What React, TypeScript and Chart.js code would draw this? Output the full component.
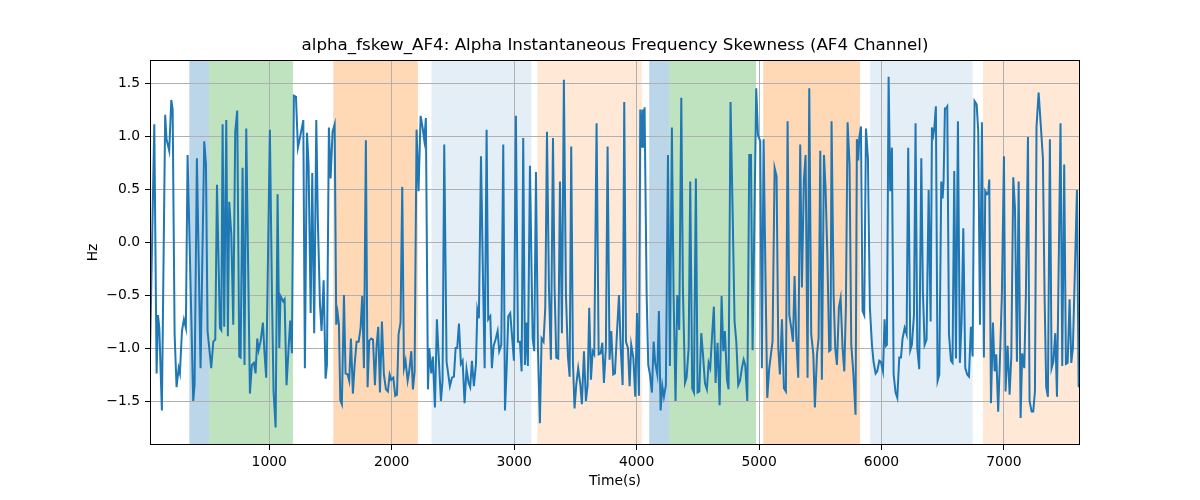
import { useEffect, useRef } from "react";
import { Chart, registerables } from "chart.js";

Chart.register(...registerables);

const FONT = "'DejaVu Sans', 'Liberation Sans', sans-serif";

const titleText = "alpha_fskew_AF4: Alpha Instantaneous Frequency Skewness (AF4 Channel)";
const xLabel = "Time(s)";
const yLabel = "Hz";

const xTicks = [1000, 2000, 3000, 4000, 5000, 6000, 7000];
const yTicks = [-1.5, -1.0, -0.5, 0.0, 0.5, 1.0, 1.5];
const xRange = [26, 7621];
const yRange = [-1.915, 1.717];

const bandStarts = [347, 508, 1523, 2325, 3189, 4103, 4269, 5034, 5908, 6828];
const bandEnds = [508, 1193, 2214, 3140, 4043, 4269, 4975, 5824, 6744, 7621];
const bandColors = [
  "rgba(31,119,180,0.3)",
  "rgba(44,160,44,0.3)",
  "rgba(255,127,14,0.3)",
  "rgba(31,119,180,0.12)",
  "rgba(255,127,14,0.17)",
  "rgba(31,119,180,0.3)",
  "rgba(44,160,44,0.3)",
  "rgba(255,127,14,0.3)",
  "rgba(31,119,180,0.12)",
  "rgba(255,127,14,0.17)",
];

const times = [
  25, 61, 80, 91, 102, 123, 150, 161, 183, 200,
  211, 227, 243, 260, 270, 287, 303, 319, 333, 379,
  390, 409, 439, 469, 483, 496, 526, 543, 559, 573,
  597, 608, 619, 632, 649, 662, 673, 690, 706, 722,
  738, 755, 766, 782, 798, 812, 842, 858, 875, 888,
  902, 913, 929, 948, 962, 975, 1005, 1022, 1035, 1052,
  1068, 1082, 1092, 1114, 1125, 1141, 1158, 1171, 1185, 1201,
  1218,
  1234, 1250, 1278, 1291, 1308, 1321, 1338, 1351, 1367, 1384,
  1397, 1414, 1427, 1444, 1460, 1471, 1487, 1501, 1517, 1534,
  1547, 1558, 1569, 1580, 1593, 1610, 1623, 1640, 1653, 1667,
  1683, 1697, 1713, 1730, 1746, 1759, 1773, 1789, 1803, 1817,
  1833, 1847, 1863, 1877, 1890, 1904, 1920, 1936, 1953, 1969,
  1983, 1996, 2013, 2029, 2043, 2056, 2072, 2086, 2100, 2113,
  2130, 2143, 2160, 2173, 2187, 2203, 2219, 2236, 2252, 2266,
  2279, 2296, 2307, 2323, 2336, 2353, 2369, 2385, 2402, 2415,
  2429, 2448,
  2475, 2492, 2508, 2522, 2535, 2549, 2565, 2579, 2595, 2611,
  2628, 2641, 2655, 2671, 2688, 2699, 2712, 2729, 2745, 2759,
  2775, 2788, 2805, 2818, 2832, 2848, 2865, 2878, 2895, 2911,
  2925, 2938, 2952, 2968, 2984, 2998, 3014, 3031, 3047, 3061,
  3074, 3088, 3101, 3112, 3129, 3151, 3164, 3178, 3194, 3210,
  3224, 3240, 3254, 3268, 3284, 3300, 3317, 3330, 3344, 3360,
  3374, 3390, 3406, 3423, 3439, 3453, 3466, 3480, 3493, 3507,
  3523, 3540, 3553, 3570, 3586, 3600, 3613, 3627, 3641, 3654,
  3673,
  3690, 3706, 3720, 3733, 3749, 3763, 3779, 3793, 3809, 3823,
  3839, 3856, 3869, 3886, 3899, 3913, 3929, 3943, 3956, 3973,
  3989, 4003, 4019, 4030, 4041, 4049, 4057, 4065, 4082, 4095,
  4109, 4125, 4139, 4152, 4169, 4182, 4196, 4210, 4223, 4239,
  4256, 4272, 4288, 4302, 4318, 4332, 4348, 4365, 4378, 4395,
  4408, 4425, 4438, 4454, 4468, 4484, 4498, 4512, 4528, 4542,
  4558, 4574, 4588, 4601, 4615, 4631, 4645, 4661, 4678, 4694,
  4708, 4721, 4738, 4751, 4767, 4784, 4800, 4814, 4830, 4844,
  4860, 4874, 4887, 4904,
  4920, 4934, 4947, 4977, 4991, 5010, 5023, 5037, 5053, 5067,
  5083, 5097, 5110, 5127, 5143, 5157, 5170, 5187, 5203, 5219,
  5233, 5247, 5263, 5277, 5290, 5304, 5320, 5336, 5350, 5366,
  5380, 5396, 5410, 5426, 5443, 5456, 5473, 5486, 5500, 5513,
  5530, 5543, 5557, 5573, 5584, 5592, 5609, 5622, 5636, 5652,
  5666, 5682, 5696, 5709, 5723, 5739, 5753, 5769, 5788, 5799,
  5810, 5818, 5832, 5845, 5859, 5873, 5889, 5905, 5922, 5935,
  5952, 5965, 5982, 5995, 6012, 6025, 6036, 6044, 6058, 6071,
  6085, 6099, 6115, 6129,
  6145, 6159, 6172, 6189, 6205, 6218, 6235, 6248, 6265, 6278,
  6292, 6308, 6325, 6338, 6352, 6368, 6385, 6401, 6412, 6423,
  6431, 6444, 6458, 6472, 6488, 6499, 6507, 6518, 6526, 6537,
  6551, 6567, 6580, 6594, 6608, 6624, 6640, 6654, 6668, 6684,
  6700, 6714, 6730, 6744, 6760, 6777, 6790, 6804, 6820, 6836,
  6847, 6861, 6872, 6880, 6894, 6910, 6924, 6937, 6953, 6970,
  6983, 7000, 7013, 7030, 7046, 7060, 7076, 7090, 7106, 7120,
  7136, 7149, 7166, 7179, 7196, 7209, 7226, 7239, 7253, 7266,
  7283, 7302, 7318, 7332, 7345, 7359, 7375, 7389, 7403, 7419,
  7433, 7462, 7476, 7492, 7506, 7520, 7536, 7550, 7563, 7577,
  7596, 7610, 7621,
];

const skewness = [
  -1.13, 1.11, -1.24, -0.69, -0.81, -1.59, 1.2, 0.97, 0.86, 1.34,
  1.25, -0.87, -1.37, -1.19, -1.24, -0.84, -0.73, -0.81, 0.82, -1.5,
  -1.35, 0.79, -1.19, 0.95, 0.73, -0.84, -1.19, -0.94, -0.92, 0.54,
  -0.81, -0.83, 1.11, -0.8, 1.15, -0.89, 0.38, 0.07, -0.78, 1.04,
  1.24, -1.08, -1.09, 0.7, -1.16, 1.07, -1.43, -1.16, -1.14, -1.24,
  -0.91, -1.02, -0.94, -0.76, -1.06, -1.28, 1.06, -0.5, -1.41, -1.75,
  0.45, -1.0, -0.51, -0.56, -0.54, -1.35, -1.0, -0.74, -1.05, 1.38,
  1.37,
  0.89, 0.98, 1.15, -1.19, 1.03, 0.73, -0.67, 0.65, -0.86, 1.15,
  0.19, -0.59, -0.84, -0.36, -1.29, -1.16, 1.08, 0.6, 1.04, 1.11,
  -0.78, -0.67, -0.78, -1.49, -1.53, -0.5, -1.24, -1.25, -1.31, -0.91,
  -1.43, -1.16, -0.94, -0.94, -0.81, -0.51, -1.19, 0.96, -1.37, -0.93,
  -0.91, -0.92, -1.35, -0.97, -0.8, -1.42, -0.75, -1.25, -1.39, -1.41,
  -1.25, -1.3, -1.28, -1.45, -1.44, -0.87, -0.76, 0.52, -1.19, -1.12,
  -1.31, -1.22, -1.03, -1.39, -1.22, 1.06, 0.48, 1.19, 1.08, 0.96,
  1.17, -1.39, -1.0, -1.24, -1.08, -1.56, -0.73, -1.11, -1.5, -1.31,
  0.92, -1.13,
  -1.36, -1.28, -1.27, -1.0, -1.0, -0.77, -1.15, -1.12, -1.52, -1.2,
  -1.33, -1.37, -1.12, -1.36, -1.15, -0.64, -0.72, 0.81, -0.31, -1.19,
  1.06, -0.73, -0.7, -1.19, -0.98, -0.92, -0.84, -1.03, -0.97, 0.92,
  -1.59, -1.22, -0.7, -0.67, -0.91, -1.12, 1.19, -0.94, -0.94, -1.22,
  0.98, -1.16, -0.76, -1.17, 0.72, -0.91, -1.03, 0.66, -1.0, -1.71,
  -0.91, -0.94, -0.62, 1.04, -0.43, -1.11, 0.98, -0.43, -1.09, -1.1,
  0.57, -0.86, 1.53, -0.5, -1.08, -1.27, 0.9, -1.13, -1.57, -1.35,
  -1.19, -1.34, -1.53, -1.03, -1.5, -1.35, -0.62, -1.3, -1.03, -1.06,
  1.12,
  -1.06, -1.05, -0.95, -1.33, -1.0, 0.9, -1.11, -0.84, -1.25, -1.24,
  -0.87, -0.5, -0.97, -1.35, 1.32, -0.94, -1.0, -1.36, -0.97, -1.09,
  -1.46, -0.67, -1.45, 1.25, 0.89, 1.25, 0.89, 1.27, -0.5, -1.16,
  -1.25, -1.42, -0.94, -1.14, -1.25, -0.65, -1.59, -1.36, -1.46, -1.35,
  0.82, -1.17, 1.08, -0.5, -1.5, -0.5, -0.83, 1.36, -0.43, -1.33,
  -1.28, -1.0, 0.57, -1.38, -1.42, 0.6, -1.42, -1.41, -0.86, -1.06,
  -1.33, -1.39, -1.14, -1.19, -0.91, -0.61, -1.33, -0.95, -1.54, -0.51,
  -1.03, -0.84, -1.3, -1.39, 1.32, 0.29, -0.75, -0.94, -1.35, -1.31,
  -1.19, -1.11, -1.16, -1.5,
  0.82, 0.82, -1.02, 1.45, 1.01, 0.95, -1.19, 0.97, -0.37, -1.47,
  -1.19, -1.06, -0.94, 0.7, 0.62, -1.0, -1.25, -0.73, -1.38, -1.41,
  1.14, -0.69, -0.81, -0.94, -0.32, -0.91, -1.28, 0.92, -0.43, 0.59,
  0.82, -1.28, 1.45, -0.87, -1.06, -1.56, -1.06, -0.91, 0.86, -1.3,
  0.82, 0.51, -0.09, -1.03, -1.02, 1.14, -0.5, -1.0, -1.16, -0.62,
  -0.53, -1.0, -1.22, -0.62, 1.13, 0.73, -0.97, -1.22, -1.63, 0.97,
  0.77, 0.98, 1.09, -0.65, -0.69, 1.07, 0.79, -0.62, -0.97, -1.13,
  -1.24, -1.22, -1.12, -1.13, -1.22, -0.73, -0.98, -0.97, 1.56, 0.48,
  0.89, -1.25, -1.42, -1.47,
  -1.09, -1.09, -0.91, -0.81, -0.87, 0.89, -1.02, -0.97, -0.69, 1.12,
  -1.0, -1.2, 0.79, -0.47, -0.97, -0.92, 0.49, -0.75, 1.08, 1.01,
  1.07, 1.28, -1.31, -1.25, 0.57, 0.41, 0.57, 1.26, 1.26, 1.28,
  -0.87, -1.12, -1.14, 0.67, -1.1, 1.14, -1.14, -0.75, 0.13, -1.19,
  -1.25, -1.27, -0.8, -1.08, 1.33, 1.3, 1.04, -0.78, 1.13, -1.09,
  0.48, 0.45, 0.46, 0.59, -1.52, -0.76, -1.22, -1.06, -1.6, -1.0,
  -0.5, 0.81, -1.41, -0.98, -1.44, -1.08, 0.61, 0.32, -1.13, 0.57,
  -1.66, -1.05, -1.19, -0.5, 0.99, -1.5, -1.6, -1.6, -1.41, 1.09,
  1.41, 1.08, 0.79, -0.53, -1.37, -1.46, 0.97, -1.19, -1.13, -0.86,
  -1.46, 1.12, -1.17, 0.73, -1.15, -1.14, -0.54, -1.14, -1.0, -0.37,
  0.49, -1.36, -1.37,
];

const fmtY = (v: number) => (v < 0 ? "\u2212" : "") + Math.abs(v).toFixed(1);

const bandsPlugin = {
  id: "bands",
  beforeDraw(chart: any) {
    const { ctx, chartArea, scales } = chart;
    const x = scales.x;
    ctx.save();
    ctx.beginPath();
    ctx.rect(chartArea.left, chartArea.top, chartArea.right - chartArea.left, chartArea.bottom - chartArea.top);
    ctx.clip();
    for (let i = 0; i < bandStarts.length; i++) {
      const x0 = x.getPixelForValue(bandStarts[i]);
      const x1 = x.getPixelForValue(bandEnds[i]);
      ctx.fillStyle = bandColors[i];
      ctx.fillRect(x0, chartArea.top, x1 - x0, chartArea.bottom - chartArea.top);
    }
    ctx.restore();
  },
};

const framePlugin = {
  id: "frame",
  afterDraw(chart: any) {
    const { ctx, chartArea } = chart;
    ctx.save();
    ctx.strokeStyle = "#000";
    ctx.lineWidth = 1;
    ctx.strokeRect(
      Math.round(chartArea.left) + 0.5,
      Math.round(chartArea.top) + 0.5,
      Math.round(chartArea.right - chartArea.left) - 1,
      Math.round(chartArea.bottom - chartArea.top) - 1
    );
    ctx.fillStyle = "#000";
    ctx.textAlign = "center";
    ctx.textBaseline = "middle";
    const cx = (chartArea.left + chartArea.right) / 2;
    ctx.font = `16.7px ${FONT}`;
    ctx.fillText(titleText, cx, 46);
    ctx.font = `13.9px ${FONT}`;
    ctx.fillText(xLabel, cx, 481);
    ctx.save();
    ctx.translate(93, (chartArea.top + chartArea.bottom) / 2);
    ctx.rotate(-Math.PI / 2);
    ctx.fillText(yLabel, 0, 0);
    ctx.restore();
    ctx.restore();
  },
};

export default function App() {
  const ref = useRef<HTMLCanvasElement | null>(null);

  useEffect(() => {
    if (!ref.current) return;
    const points = times.map((t, i) => ({ x: t, y: skewness[i] }));
    const chart = new Chart(ref.current, {
      type: "line",
      data: {
        datasets: [
          {
            data: points,
            borderColor: "#1f77b4",
            borderWidth: 2,
            pointRadius: 0,
            tension: 0,
            fill: false,
          },
        ],
      },
      options: {
        responsive: false,
        animation: false,
        events: [],
        layout: { padding: { top: 60, right: 120, left: 0, bottom: 0 } },
        plugins: {
          legend: { display: false },
          tooltip: { enabled: false },
          title: { display: false },
        },
        scales: {
          x: {
            type: "linear",
            min: xRange[0],
            max: xRange[1],
            afterBuildTicks: (s: any) => {
              s.ticks = xTicks.map((v) => ({ value: v }));
            },
            afterFit: (s: any) => {
              s.height = 55;
            },
            ticks: {
              autoSkip: false,
              maxRotation: 0,
              padding: 4,
              color: "#000",
              font: { family: FONT, size: 13.9 },
              callback: (v: any) => String(v),
            },
            grid: { color: "#b0b0b0", lineWidth: 1, tickColor: "#000", tickLength: 5 },
            border: { display: false },
          },
          y: {
            type: "linear",
            min: yRange[0],
            max: yRange[1],
            afterBuildTicks: (s: any) => {
              s.ticks = yTicks.map((v) => ({ value: v }));
            },
            afterFit: (s: any) => {
              s.width = 150;
            },
            ticks: {
              padding: 5,
              color: "#000",
              font: { family: FONT, size: 13.9 },
              callback: (v: any) => fmtY(Number(v)),
            },
            grid: { color: "#b0b0b0", lineWidth: 1, tickColor: "#000", tickLength: 5 },
            border: { display: false },
          },
        },
      },
      plugins: [bandsPlugin, framePlugin],
    });
    return () => chart.destroy();
  }, []);

  return (
    <div style={{ position: "fixed", left: 0, top: 0, width: 1200, height: 500, background: "#fff" }}>
      <canvas ref={ref} width={1200} height={500} style={{ display: "block" }} />
    </div>
  );
}
